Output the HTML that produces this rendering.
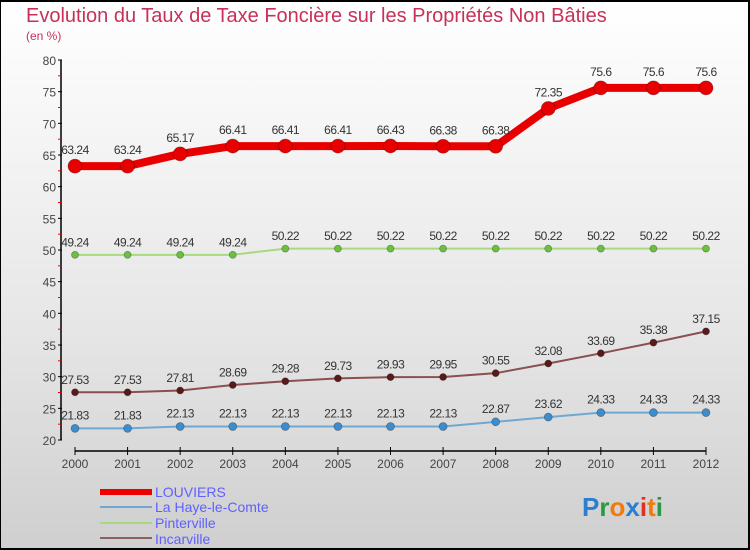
<!DOCTYPE html>
<html><head><meta charset="utf-8"><style>
body{margin:0}
#c{width:750px;height:550px;position:relative;box-sizing:border-box;border:2px solid #000;border-left-width:1px;background:linear-gradient(#ffffff,#e6e6e6 60%,#cfcfcf);font-family:"Liberation Sans",sans-serif;overflow:hidden}
</style></head><body>
<div id="c">
<svg id="s" width="750" height="550" style="position:absolute;left:-1px;top:-2px">
<text x="26" y="22" font-size="20" fill="#c8305a">Evolution du Taux de Taxe Foncière sur les Propriétés Non Bâties</text>
<text x="26" y="40" font-size="12" fill="#c8305a">(en %)</text>
<g id="g"></g>
<g>
<rect x="100" y="489" width="52" height="6" fill="#e00"/>
<text x="155" y="497" font-size="14" fill="#6060ff">LOUVIERS</text>
<rect x="100" y="506" width="52" height="2" fill="#6fa8d0"/>
<text x="155" y="512" font-size="14" fill="#6060ff">La Haye-le-Comte</text>
<rect x="100" y="522" width="52" height="2" fill="#a8d880"/>
<text x="155" y="528" font-size="14" fill="#6060ff">Pinterville</text>
<rect x="100" y="537" width="52" height="2" fill="#8a6060"/>
<text x="155" y="544" font-size="14" fill="#6060ff">Incarville</text>
</g>
<g font-size="26" font-weight="bold">
<text x="582" y="516"><tspan fill="#2a7fd0">P</tspan><tspan fill="#2a9a40">r</tspan><tspan fill="#f07a10">o</tspan><tspan fill="#2a7fd0">x</tspan><tspan fill="#e03020">i</tspan><tspan fill="#f07a10">t</tspan><tspan fill="#2a9a40">i</tspan></text>
</g>
</svg>
</div>
<script>
const years=[2000,2001,2002,2003,2004,2005,2006,2007,2008,2009,2010,2011,2012];
const louviers=[63.24,63.24,65.17,66.41,66.41,66.41,66.43,66.38,66.38,72.35,75.6,75.6,75.6];
const pinterville=[49.24,49.24,49.24,49.24,50.22,50.22,50.22,50.22,50.22,50.22,50.22,50.22,50.22];
const incarville=[27.53,27.53,27.81,28.69,29.28,29.73,29.93,29.95,30.55,32.08,33.69,35.38,37.15];
const laHaye=[21.83,21.83,22.13,22.13,22.13,22.13,22.13,22.13,22.87,23.62,24.33,24.33,24.33];
const yTicks=[20,25,30,35,40,45,50,55,60,65,70,75,80];
const NS="http://www.w3.org/2000/svg";
const g=document.getElementById('g');
const X=i=>75+i*(706-75)/(years.length-1);
const Y=v=>440-(v-20)*(380/60);
function mk(t,a,p){const e=document.createElementNS(NS,t);for(const k in a)e.setAttribute(k,a[k]);(p||g).appendChild(e);return e;}
// axes
let ax=mk('line',{x1:61,y1:Y(80),x2:61,y2:Y(20),stroke:'#000','stroke-width':1.5});


yTicks.forEach(v=>{
 let t=mk('line',{x1:58,x2:62,y1:Y(v),y2:Y(v),stroke:'#000'});
 
 
 let m=mk('line',{x1:58,x2:61,y1:Y(v+2.5),y2:Y(v+2.5),stroke:'#e00'});
 if(v===80)m.remove();
 
 
 let l=mk('text',{x:56,y:Y(v)+5,'font-size':12,fill:'#444','text-anchor':'end'});
 l.textContent=v;
 
 
});
let xa=mk('line',{x1:X(0),y1:451,x2:X(12),y2:451,stroke:'#000','stroke-width':1.5});


years.forEach((yr,i)=>{
 let t=mk('line',{x1:X(i),x2:X(i),y1:447,y2:455,stroke:'#000'});
 
 
 let l=mk('text',{x:X(i),y:468,'font-size':12,fill:'#444','text-anchor':'middle'});
 l.textContent=yr;
 
 
});
function series(data,name,color,lw,r,dot){
 const pts=data.map((v,i)=>X(i)+','+Y(v)).join(' ');
 let p=mk('polyline',{points:pts,fill:'none',stroke:color,'stroke-width':lw,'stroke-linejoin':'round'});
 
 
 data.forEach((v,i)=>{
  let c=mk('circle',{cx:X(i),cy:Y(v),r:r,fill:dot,stroke:'rgba(0,0,0,0.3)','stroke-width':0.8});
  
  
  let l=mk('text',{x:X(i),y:Y(v)-(r+5),'font-size':12,fill:'#333','text-anchor':'middle','letter-spacing':'-0.5'});
  l.textContent=v;
  
  
 });
}
series(laHaye,'la-haye','#6fa8d0',2,4,'#3d8ccc');
series(incarville,'incarville','#8a5050',2,3.5,'#5a1a1a');
series(pinterville,'pinterville','#a8d880',2,3.5,'#6cc040');
series(louviers,'louviers','#e80000',8,7,'#e80000');
</script>
</body></html>
